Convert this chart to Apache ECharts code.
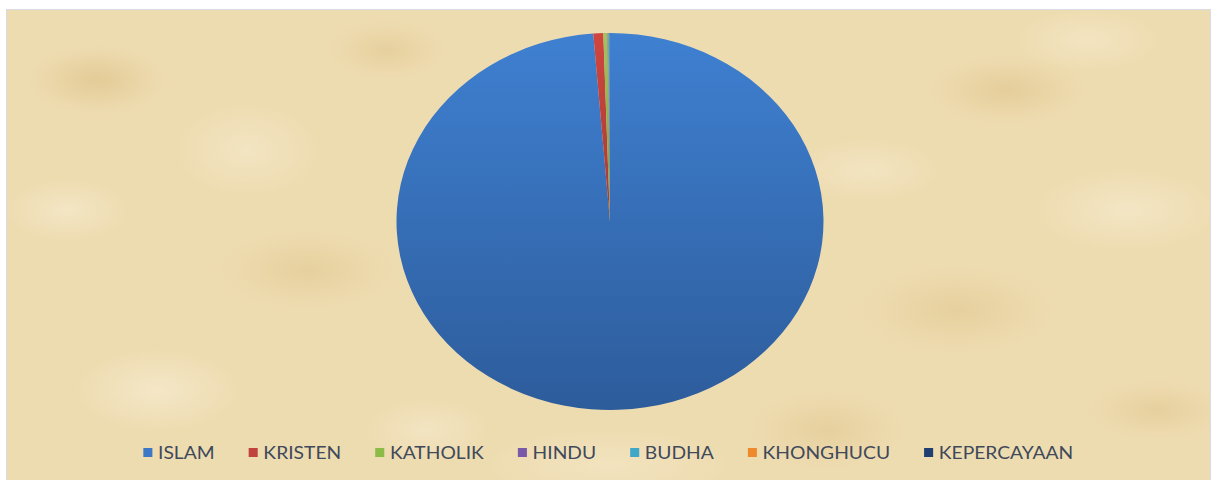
<!DOCTYPE html>
<html>
<head>
<meta charset="utf-8">
<script src="https://cdn.jsdelivr.net/npm/echarts@6/dist/echarts.min.js"></script>
<style>
    html, body { margin: 0; padding: 0; background: #ffffff; }
    #wrap { position: relative; width: 1217px; height: 480px; overflow: hidden; }
    #frame {
        position: absolute; left: 6px; top: 9px; width: 1203px; height: 475px;
        border: 1px solid #d6dbe5;
        background-color: #eedcb1;
        background-image:
            radial-gradient(ellipse 70px 35px at 90px 70px, rgba(224,196,140,0.7), rgba(224,196,140,0) 100%),
            radial-gradient(ellipse 90px 40px at 300px 260px, rgba(226,200,146,0.6), rgba(226,200,146,0) 100%),
            radial-gradient(ellipse 80px 35px at 1000px 80px, rgba(224,196,140,0.6), rgba(224,196,140,0) 100%),
            radial-gradient(ellipse 100px 45px at 950px 300px, rgba(226,200,146,0.6), rgba(226,200,146,0) 100%),
            radial-gradient(ellipse 80px 40px at 150px 380px, rgba(246,234,205,0.8), rgba(246,234,205,0) 100%),
            radial-gradient(ellipse 90px 40px at 1120px 200px, rgba(246,234,205,0.7), rgba(246,234,205,0) 100%),
            radial-gradient(ellipse 120px 35px at 600px 455px, rgba(244,230,196,0.7), rgba(244,230,196,0) 100%),
            radial-gradient(ellipse 70px 45px at 240px 140px, rgba(246,234,205,0.6), rgba(246,234,205,0) 100%),
            radial-gradient(ellipse 80px 40px at 820px 420px, rgba(224,196,140,0.5), rgba(224,196,140,0) 100%),
            radial-gradient(ellipse 60px 30px at 60px 200px, rgba(246,234,205,0.7), rgba(246,234,205,0) 100%),
            radial-gradient(ellipse 70px 30px at 1150px 400px, rgba(224,196,140,0.5), rgba(224,196,140,0) 100%),
            radial-gradient(ellipse 70px 30px at 860px 160px, rgba(246,234,205,0.6), rgba(246,234,205,0) 100%),
            radial-gradient(ellipse 60px 30px at 380px 40px, rgba(224,196,140,0.5), rgba(224,196,140,0) 100%),
            radial-gradient(ellipse 60px 30px at 420px 420px, rgba(246,234,205,0.6), rgba(246,234,205,0) 100%),
            radial-gradient(ellipse 70px 30px at 1080px 30px, rgba(246,234,205,0.6), rgba(246,234,205,0) 100%);
    }
    /* gambar asli diregangkan horizontal, jadi seluruh chart ikut diregangkan */
    #chart {
        position: absolute; left: 0; top: 0; width: 1217px; height: 480px;
        transform: scaleX(1.1326); transform-origin: 610px 221px;
    }
</style>
</head>
<body>
<div id="wrap">
    <div id="frame"></div>
    <div id="chart"></div>
</div>
<script>
    // agama penduduk (persen)
    var categories = ['ISLAM', 'KRISTEN', 'KATHOLIK', 'HINDU', 'BUDHA', 'KHONGHUCU', 'KEPERCAYAAN'];
    var values = [98.75, 0.75, 0.30, 0.04, 0.10, 0.02, 0.04];
    var colorsTop = ['#3f80d1', '#d0463f', '#a2c45c', '#8466ac', '#4cb3d0', '#f89a4a', '#2f528a'];
    var colorsBottom = ['#2d5c9b', '#a33b37', '#7f9b45', '#65508a', '#3a8aa3', '#c8762f', '#223d66'];
    var legendColors = ['#3c78c6', '#c0433d', '#8dbb47', '#7a5aa8', '#3fa7c7', '#ee8a2c', '#1f3f73'];

    var pieData = [];
    var legendData = [];
    for (var i = 0; i < categories.length; i++) {
        pieData.push({
            name: categories[i],
            value: values[i],
            itemStyle: {
                color: new echarts.graphic.LinearGradient(0, 0, 0, 1, [
                    { offset: 0, color: colorsTop[i] },
                    { offset: 1, color: colorsBottom[i] }
                ])
            }
        });
        legendData.push({
            name: categories[i],
            itemStyle: { color: legendColors[i] }
        });
    }

    var chart = echarts.init(document.getElementById('chart'), null, { renderer: 'svg' });
    chart.setOption({
        animation: false,
        legend: {
            bottom: 14,
            left: 'center',
            icon: 'rect',
            itemWidth: 8,
            itemHeight: 9,
            itemGap: 30,
            textStyle: {
                color: '#3f495a',
                fontSize: 17,
                fontFamily: 'Lato'
            },
            data: legendData
        },
        series: [{
            type: 'pie',
            silent: true,
            startAngle: 90,
            clockwise: true,
            center: [610, 221.5],
            radius: 188.5,
            label: { show: false },
            labelLine: { show: false },
            itemStyle: { borderWidth: 0 },
            data: pieData
        }]
    });
</script>
</body>
</html>
